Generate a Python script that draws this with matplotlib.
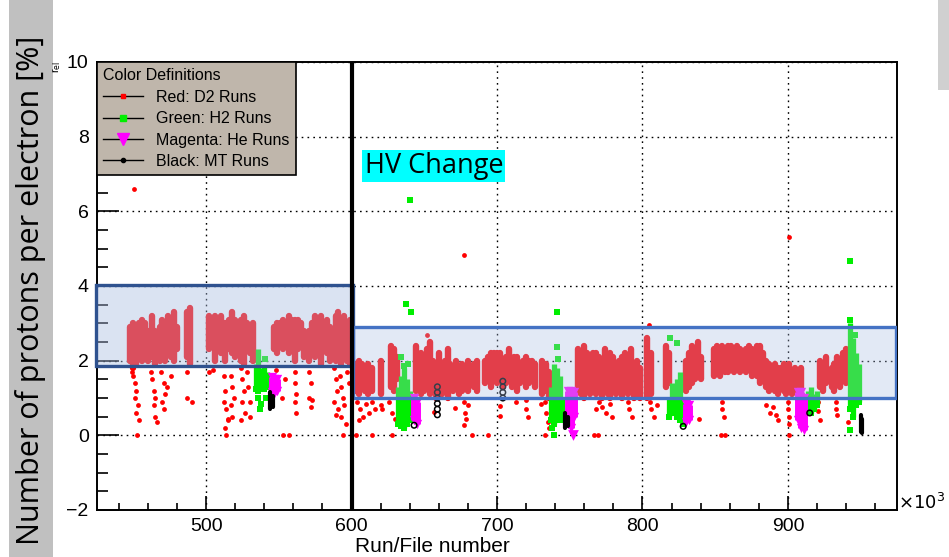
import matplotlib
matplotlib.use('Agg')
import matplotlib.pyplot as plt
from matplotlib.lines import Line2D
from matplotlib.patches import Rectangle

plt.rcParams['font.family'] = ['Liberation Sans', 'DejaVu Sans']

# ---- data ----
# dense red (D2) runs: x, lowest and highest value of the column
red_x = [448, 450, 452, 454, 456, 458, 460, 463, 465, 468, 470, 472, 474, 476, 478, 480,
         487, 489, 502, 504, 506, 508, 510, 513, 516, 518, 520, 524, 526, 528, 530, 532,
         547, 549, 551, 553, 555, 557, 559, 561, 563, 565, 567, 571, 573, 575, 577, 579,
         581, 583, 585, 589, 591, 593, 595, 597, 599,
         603, 605, 607, 609, 611, 614, 620, 627, 629, 631, 644, 646, 648, 650, 652, 654,
         656, 658, 660, 662, 664, 666, 668, 670, 672, 674, 676, 678, 680, 682, 684, 686,
         692, 694, 696, 698, 700, 702, 704, 706, 708, 710, 712, 714, 716, 718, 720, 722,
         724, 726, 731, 734, 736, 756, 758, 760, 762, 764, 766, 768, 770, 772, 774, 776,
         778, 780, 782, 784, 786, 788, 790, 792, 794, 796, 798, 803, 806, 816, 818, 830,
         832, 834, 836, 838, 840, 849, 851, 853, 855, 857, 859, 861, 863, 865, 867, 869,
         871, 873, 875, 877, 879, 881, 883, 885, 887, 889, 891, 893, 895, 897, 899, 901,
         903, 905, 907, 909, 922, 924, 926, 930, 932, 934, 936, 938, 940]
red_lo = [2.0, 1.8, 1.9, 2.1, 2.0, 2.2, 2.0, 2.1, 1.9, 2.0, 2.2, 2.0, 2.3, 2.1, 2.0, 2.3,
          2.1, 1.9, 2.3, 2.4, 2.0, 2.4, 2.2, 2.0, 2.3, 2.2, 2.1, 2.0, 1.9, 2.4, 2.2, 2.0,
          2.3, 2.2, 2.4, 2.3, 2.5, 2.2, 2.3, 2.0, 2.3, 2.4, 2.1, 2.0, 2.2, 2.1, 2.3, 1.9,
          2.3, 2.2, 2.0, 2.0, 2.1, 1.9, 2.2, 2.0, 1.9,
          1.2, 1.1, 1.3, 1.2, 1.1, 1.2, 1.1, 1.3, 1.2, 1.5, 1.2, 1.3, 1.1, 1.2, 1.4, 1.1,
          1.2, 1.0, 1.3, 1.1, 1.2, 1.0, 1.3, 1.2, 1.3, 1.1, 1.2, 1.3, 1.2, 1.4, 1.3, 1.2,
          1.4, 1.5, 1.3, 1.5, 1.4, 1.5, 1.3, 1.4, 1.5, 1.3, 1.5, 1.2, 1.4, 1.5, 1.3, 1.4,
          1.5, 1.3, 1.1, 1.2, 1.0, 1.2, 1.1, 1.0, 1.2, 1.1, 1.3, 1.1, 1.3, 1.0, 1.2, 1.1,
          1.0, 1.3, 1.1, 1.2, 1.0, 1.3, 1.1, 1.2, 1.0, 1.2, 1.0, 1.0, 1.1, 1.3, 1.4, 1.2,
          1.3, 1.4, 1.5, 1.6, 1.5, 1.6, 1.7, 1.6, 1.8, 1.7, 1.7, 1.8, 1.7, 1.8, 1.7, 1.8,
          1.7, 1.8, 1.6, 1.7, 1.6, 1.4, 1.5, 1.3, 1.2, 1.3, 1.2, 1.1, 1.3, 1.2, 1.1, 1.2,
          1.1, 1.2, 1.1, 1.2, 1.3, 1.2, 1.4, 1.3, 1.2, 1.4, 1.3, 1.5, 1.4]
red_hi = [2.9, 3.0, 2.9, 3.0, 3.1, 3.0, 2.8, 3.2, 2.8, 2.9, 3.1, 3.0, 3.2, 3.1, 3.3, 2.9,
          3.3, 3.4, 3.2, 3.1, 3.2, 3.1, 3.2, 3.0, 3.1, 3.3, 3.1, 3.1, 3.2, 3.0, 2.9, 3.0,
          2.9, 3.0, 3.0, 3.1, 3.0, 3.2, 3.1, 3.1, 3.1, 3.0, 2.8, 2.8, 3.0, 3.2, 3.1, 3.2,
          3.0, 3.1, 2.9, 3.2, 3.3, 3.1, 3.2, 3.0, 3.1,
          1.9, 2.0, 1.9, 1.8, 1.9, 1.8, 2.0, 2.4, 2.3, 2.1, 2.4, 2.0, 2.2, 2.0, 2.3, 2.5,
          2.0, 1.9, 2.2, 1.8, 2.0, 2.3, 1.9, 1.8, 2.0, 1.7, 1.9, 1.8, 2.0, 1.8, 1.9, 2.0,
          2.0, 2.1, 2.2, 2.2, 2.2, 2.2, 2.0, 2.1, 2.3, 2.0, 2.1, 2.1, 1.9, 2.0, 2.1, 2.0,
          2.0, 1.9, 2.0, 1.9, 1.7, 2.3, 2.0, 2.4, 2.2, 1.9, 2.2, 2.2, 2.1, 2.0, 2.3, 2.1,
          2.2, 2.1, 1.9, 2.0, 2.1, 2.2, 2.0, 2.3, 1.9, 2.0, 1.8, 2.6, 2.2, 2.4, 2.2, 2.0,
          2.2, 2.4, 2.2, 2.5, 2.1, 2.3, 2.4, 2.2, 2.4, 2.3, 2.4, 2.4, 2.3, 2.4, 2.3, 2.2,
          2.3, 2.4, 2.3, 2.2, 2.4, 2.4, 2.2, 2.0, 1.9, 1.8, 1.9, 1.8, 1.8, 1.9, 1.8, 1.9,
          1.7, 1.8, 1.6, 1.8, 2.0, 1.9, 2.1, 1.8, 1.9, 2.1, 2.0, 2.2, 2.3]

# isolated red (D2) runs
red_px = [450.7, 449, 450, 451, 452, 451, 453, 452, 454, 452.6,
          462, 463, 464, 465, 464, 465, 466, 469, 471, 472, 470, 471, 473, 476,
          487, 487, 490, 502, 505, 512, 513, 512, 514, 515, 513, 514,
          517, 518, 519, 517, 518, 515, 524, 525, 526, 525, 527, 524, 528, 529, 530, 530,
          548, 552, 554, 561, 561, 562, 561, 562, 571, 572, 571, 572, 573,
          553, 557, 594, 588, 589, 590, 588, 591, 589, 592, 593, 594, 595, 593, 596, 597, 598,
          603, 614, 628, 604, 606, 608, 605, 610, 612, 614, 616, 620, 621, 626, 628, 630, 632,
          657, 671, 677, 678, 679, 677, 680, 683, 694, 702, 702, 713, 720, 720, 721, 730,
          733, 734, 735, 736, 733, 739, 677, 651.7,
          767, 769.5, 770, 772, 775, 778, 779, 768, 790, 791, 793, 805, 806, 808, 810,
          804.5, 839, 855, 855, 856, 854, 857,
          885, 888, 890, 892, 893, 900, 900, 901, 901, 900.5, 900.5,
          921, 921, 922, 933, 933, 934, 941]
red_py = [6.6, 1.7, 1.6, 1.4, 1.2, 1.0, 0.8, 0.6, 0.4, 0.0,
          1.7, 1.5, 1.2, 1.0, 0.8, 0.5, 0.35, 1.7, 1.4, 1.1, 0.9, 0.7, 1.3, 1.6,
          1.7, 1.0, 0.9, 1.7, 1.75, 1.6, 1.2, 0.9, 0.7, 0.4, 0.2, 0.0,
          1.6, 1.3, 1.0, 0.8, 0.5, 0.45, 1.8, 1.5, 1.2, 0.9, 0.6, 0.4, 1.7, 1.3, 0.9, 0.5,
          1.75, 1.0, 1.5, 1.7, 1.4, 1.1, 0.9, 0.6, 1.7, 1.4, 1.0, 0.75, 0.95,
          0.0, 0.0, 0.0, 1.8, 1.5, 1.2, 0.9, 0.7, 0.55, 1.6, 1.3, 1.0, 0.8, 0.5, 0.3, 1.7, 1.4,
          0.0, 0.0, 0.0, 0.9, 0.7, 0.5, 0.4, 0.85, 0.6, 0.9, 0.7, 0.8, 0.7, 0.9, 0.6, 0.45, 0.8,
          0.62, 0.72, 0.9, 0.6, 0.45, 0.27, 0.8, 0.0, 0.0, 0.78, 0.51, 0.9, 0.95, 0.7, 0.5, 0.85,
          0.9, 0.6, 0.35, 0.2, 0.0, 0.5, 4.84, 2.68,
          0.0, 0.0, 0.9, 0.75, 0.6, 0.85, 0.5, 0.7, 0.9, 0.7, 0.5, 0.9, 0.7, 0.5, 0.8,
          2.95, 0.45, 0.9, 0.7, 0.5, 0.0, 0.0,
          0.8, 0.6, 0.75, 0.55, 0.4, 0.9, 0.7, 0.5, 0.3, 0.0, 5.3,
          0.9, 0.65, 0.4, 0.9, 0.7, 0.55, 0.35]

# green (H2) runs
green_x = [534, 536, 538, 540, 542, 632, 634, 636, 638, 640, 642, 737, 739, 741, 743, 745,
           818, 820, 822, 824, 826, 828, 914, 916, 918, 920, 943, 945, 947, 949]
green_lo = [1.25, 1.2, 1.3, 1.25, 1.3, 0.3, 0.25, 0.2, 0.3, 0.4, 0.5, 0.4, 0.3, 0.5, 0.4, 0.6,
            0.5, 0.6, 0.7, 0.5, 0.4, 0.3, 0.7, 0.6, 0.7, 0.8, 0.7, 0.5, 0.8, 0.9]
green_hi = [1.9, 2.3, 1.8, 1.85, 1.7, 1.3, 1.6, 1.8, 1.5, 1.2, 1.0, 1.3, 1.9, 1.8, 1.6, 1.0,
            1.0, 1.4, 1.3, 1.5, 1.7, 0.9, 1.2, 1.3, 1.1, 1.2, 3.0, 2.6, 2.2, 1.9]
green_px = [640.2, 637.7, 641, 741, 943, 943, 540.5, 536, 538, 537, 541,
            634, 636, 639, 741, 742, 739.5, 738, 819, 824, 943, 946]
green_py = [6.3, 3.53, 3.3, 3.3, 4.67, 3.09, 2.04, 1.0, 0.85, 0.7, 1.0,
            2.1, 1.85, 1.9, 2.37, 2.05, 0.0, 0.2, 2.6, 2.47, 0.13, 2.7]

# magenta (He) runs
mag_x = [545, 547, 549, 643, 645, 749, 751, 753, 830, 832, 907, 909, 911]
mag_lo = [1.15, 1.1, 1.2, 0.4, 0.3, 0.3, 0.2, 0.5, 0.35, 0.4, 0.4, 0.2, 0.15]
mag_hi = [1.55, 1.5, 1.5, 1.0, 0.9, 1.2, 1.2, 1.15, 0.85, 0.8, 1.15, 1.15, 1.0]
mag_px = [752]
mag_py = [0.0]

# black (MT) runs
black_x = [544, 546, 747, 749, 950, 951]
black_lo = [0.7, 0.75, 0.2, 0.25, 0.1, 0.05]
black_hi = [1.15, 1.05, 0.6, 0.5, 0.55, 0.45]
black_px = [659, 659, 659, 659, 659, 659, 704, 704, 704, 704, 828, 643, 915]
black_py = [1.3, 1.15, 1.0, 0.85, 0.7, 0.55, 1.45, 1.3, 1.15, 1.0, 0.24, 0.27, 0.6]

# highlighted bands: (x start, x end, y low, y high)
band1 = (424, 601, 1.85, 4.02)
band2 = (601, 974.5, 1.01, 2.9)

fig = plt.figure(figsize=(9.49, 5.57), dpi=100)
ax = fig.add_axes([97 / 949, 47 / 557, 800 / 949, 448 / 557])

# data
ax.vlines(red_x, red_lo, red_hi, colors='#ff0000', linewidth=4.6, capstyle='round', zorder=2)
ax.scatter(red_px, red_py, s=12, color='#ff0000', linewidths=0, zorder=2)
ax.vlines(green_x, green_lo, green_hi, colors='#00ee00', linewidth=3.8, zorder=3)
ax.scatter(green_x + green_px, green_lo + green_py, s=14, marker='s', color='#00ee00',
           linewidths=0, zorder=3)
ax.vlines(mag_x, mag_lo, mag_hi, colors='#ff00ff', linewidth=5, zorder=3)
ax.scatter(mag_x, mag_lo, s=45, marker='v', color='#ff00ff', linewidths=0, zorder=3)
ax.scatter(mag_x, mag_hi, s=45, marker='v', color='#ff00ff', linewidths=0, zorder=3)
ax.scatter(mag_px, mag_py, s=60, marker='v', color='#ff00ff', linewidths=0, zorder=3)
ax.vlines(black_x, black_lo, black_hi, colors='black', linewidth=3, capstyle='round', zorder=3)
ax.scatter(black_px, black_py, s=16, facecolors='none', edgecolors='black',
           linewidths=1.1, zorder=3)

# translucent boxes on top of the points
ax.add_patch(Rectangle((band1[0], band1[2]), band1[1] - band1[0], band1[3] - band1[2],
                       facecolor='#a9bde2', alpha=0.42, edgecolor='none', zorder=4,
                       clip_on=False))
ax.add_patch(Rectangle((band1[0], band1[2]), band1[1] - band1[0], band1[3] - band1[2],
                       facecolor='none', edgecolor='#2f528f', linewidth=2.4, zorder=4,
                       clip_on=False))
ax.add_patch(Rectangle((band2[0], band2[2]), band2[1] - band2[0], band2[3] - band2[2],
                       facecolor='#a9bde2', alpha=0.33, edgecolor='none', zorder=4))
ax.add_patch(Rectangle((band2[0], band2[2]), band2[1] - band2[0], band2[3] - band2[2],
                       facecolor='none', edgecolor='#4472c4', linewidth=2.4, zorder=4))

ax.axvline(600, color='black', linewidth=3, zorder=5)

ax.set_xlim(425, 975)
ax.set_ylim(-2, 10)
ax.set_xticks([500, 600, 700, 800, 900])
ax.set_xticks(range(440, 975, 20), minor=True)
ax.set_yticks([-2, 0, 2, 4, 6, 8, 10])
ax.set_yticks([v / 2 for v in range(-4, 21)], minor=True)
ax.tick_params(axis='both', which='both', direction='in', labelsize=14, top=False, right=False)
ax.tick_params(axis='y', which='major', length=16, width=1.2, pad=6)
ax.tick_params(axis='y', which='minor', length=8, width=1.2)
ax.tick_params(axis='x', which='major', length=10, width=1.2, pad=6)
ax.tick_params(axis='x', which='minor', length=5, width=1.2)
ax.grid(True, which='major', color='black', linestyle=(0, (1.2, 3)), linewidth=1)
ax.set_axisbelow(True)
for s in ax.spines.values():
    s.set_linewidth(1.4)

fig.text(355 / 949, 1 - 547 / 557, 'Run/File number', fontsize=15, ha='left', va='center')
fig.text(898 / 949, 1 - 503 / 557, r'$\times10^{3}$', fontsize=13, ha='left', va='center')
fig.text(57 / 949, 1 - 67 / 557, r'r$_{\rm el}$', fontsize=8, rotation=90,
         ha='center', va='center')

# legend
handles = [
    Line2D([], [], color='black', lw=1, marker='s', markersize=3,
           markerfacecolor='#ff0000', markeredgecolor='#ff0000'),
    Line2D([], [], color='black', lw=1, marker='s', markersize=4,
           markerfacecolor='#00ee00', markeredgecolor='#00ee00'),
    Line2D([], [], color='black', lw=1, marker='v', markersize=8,
           markerfacecolor='#ff00ff', markeredgecolor='#ff00ff'),
    Line2D([], [], color='black', lw=1, marker='o', markersize=3,
           markerfacecolor='black', markeredgecolor='black'),
]
labels = ['Red: D2 Runs', 'Green: H2 Runs', 'Magenta: He Runs', 'Black: MT Runs']
leg = ax.legend(handles, labels, title='Color Definitions', loc='upper left',
                bbox_to_anchor=(0, 1), borderaxespad=0, fontsize=11.5, title_fontsize=11.5,
                frameon=True, fancybox=False, framealpha=1, facecolor='#bfb6ab',
                edgecolor='black', handlelength=2.5, labelspacing=0.4, borderpad=0.4)
leg._legend_box.align = 'left'
leg.get_frame().set_linewidth(1.2)
leg.set_zorder(6)

ax.text(609, 7.22, 'HV Change', fontsize=19.5, family=['Open Sans', 'DejaVu Sans'],
        ha='left', va='center', zorder=6,
        bbox=dict(facecolor='#00ffff', edgecolor='none', pad=1.5))

# side labels pasted on grey strips
fig.patches.append(Rectangle((9 / 949, 0), 44 / 949, 1, transform=fig.transFigure,
                             facecolor='#c0c0c0', edgecolor='none', zorder=0))
fig.patches.append(Rectangle((938 / 949, 1 - 90 / 557), 11 / 949, 90 / 557,
                             transform=fig.transFigure, facecolor='#d0d0d0',
                             edgecolor='none', zorder=0))
fig.text(31 / 949, 1 - 290 / 557, 'Number of protons per electron [%]', fontsize=22,
         family=['Open Sans', 'DejaVu Sans'], rotation=90, ha='center', va='center')

fig.savefig('out.png', dpi=100)
